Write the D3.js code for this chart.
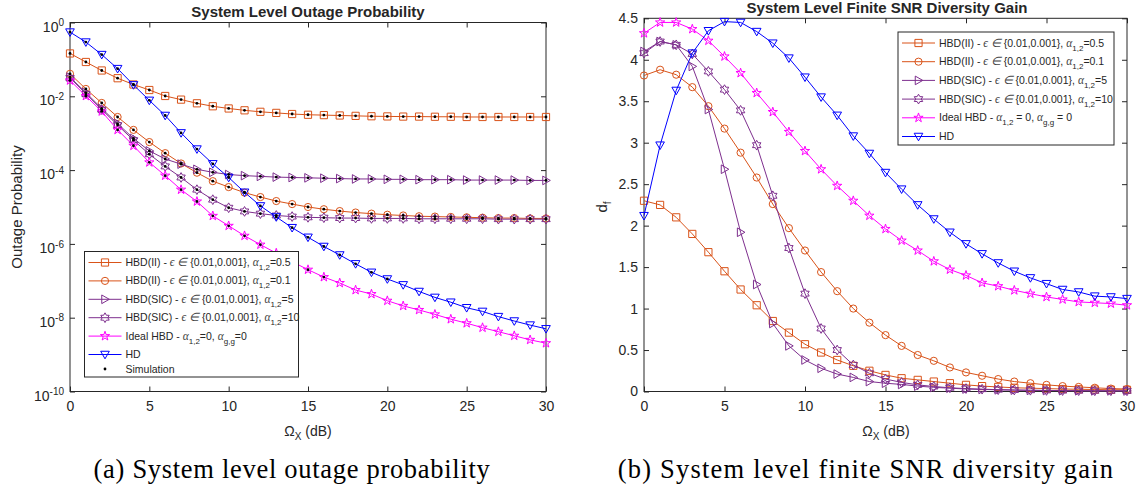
<!DOCTYPE html>
<html>
<head>
<meta charset="utf-8">
<script src="https://cdn.jsdelivr.net/npm/d3@7"></script>
<style>
  body { margin: 0; background: #fff; }
  text { font-family: "Liberation Sans", Arial, sans-serif; fill: #262626; }
  .cap { font-family: "Liberation Serif", "DejaVu Serif", serif; fill: #000; }
</style>
</head>
<body>
<div id="chart"></div>
<script>
// x values (dB) shared by both panels
const snrDb = [0,1,2,3,4,5,6,7,8,9,10,11,12,13,14,15,16,17,18,19,20,21,22,23,24,25,26,27,28,29,30];
const xTicks = [0,5,10,15,20,25,30];

// (a) outage probability, one list per curve
const outHbdII_05 = [1.45e-1,8.51e-2,5.01e-2,3.09e-2,2.09e-2,1.48e-2,1.02e-2,8.13e-3,6.46e-3,5.37e-3,4.68e-3,4.17e-3,3.80e-3,3.55e-3,3.31e-3,3.16e-3,3.09e-3,3.02e-3,2.95e-3,2.88e-3,2.85e-3,2.82e-3,2.82e-3,2.79e-3,2.79e-3,2.75e-3,2.75e-3,2.75e-3,2.75e-3,2.75e-3,2.75e-3];
const outHbdII_01 = [4.07e-2,1.58e-2,6.61e-3,2.75e-3,1.23e-3,5.75e-4,2.88e-4,1.51e-4,8.51e-5,5.01e-5,3.47e-5,2.45e-5,1.86e-5,1.45e-5,1.20e-5,1.00e-5,8.71e-6,7.76e-6,7.08e-6,6.61e-6,6.17e-6,5.89e-6,5.62e-6,5.50e-6,5.37e-6,5.25e-6,5.13e-6,5.01e-6,5.01e-6,4.90e-6,4.90e-6];
const outSic_5 = [3.31e-2,1.26e-2,4.68e-3,1.82e-3,7.24e-4,3.31e-4,2.00e-4,1.45e-4,1.05e-4,8.71e-5,7.59e-5,7.08e-5,6.76e-5,6.46e-5,6.31e-5,6.17e-5,6.03e-5,5.89e-5,5.75e-5,5.75e-5,5.62e-5,5.62e-5,5.50e-5,5.50e-5,5.50e-5,5.37e-5,5.37e-5,5.37e-5,5.37e-5,5.25e-5,5.25e-5];
const outSic_10 = [3.16e-2,1.17e-2,4.37e-3,1.66e-3,6.46e-4,2.69e-4,1.26e-4,6.31e-5,2.95e-5,1.58e-5,9.55e-6,7.59e-6,6.61e-6,5.89e-6,5.50e-6,5.25e-6,5.13e-6,5.01e-6,5.01e-6,4.90e-6,4.90e-6,4.90e-6,4.79e-6,4.79e-6,4.79e-6,4.79e-6,4.79e-6,4.68e-6,4.68e-6,4.68e-6,4.68e-6];
const outIdeal = [2.69e-2,1.02e-2,3.89e-3,1.23e-3,4.57e-4,1.62e-4,7.08e-5,2.95e-5,1.41e-5,5.75e-6,3.09e-6,1.66e-6,9.55e-7,5.62e-7,3.31e-7,2.00e-7,1.26e-7,8.71e-8,5.62e-8,4.37e-8,2.88e-8,2.09e-8,1.62e-8,1.23e-8,9.12e-9,7.08e-9,5.37e-9,4.17e-9,3.24e-9,2.51e-9,2.04e-9];
const outHd = [5.50e-1,2.95e-1,1.35e-1,5.62e-2,2.04e-2,7.76e-3,3.02e-3,1.02e-3,3.72e-4,1.48e-4,6.31e-5,2.51e-5,1.07e-5,5.37e-6,2.75e-6,1.51e-6,8.51e-7,5.01e-7,2.88e-7,1.70e-7,1.12e-7,7.76e-8,5.13e-8,3.55e-8,2.63e-8,1.86e-8,1.48e-8,1.07e-8,8.13e-9,6.31e-9,5.01e-9];
// last x (dB) that has a simulation dot, per curve
const simUpTo = [30,30,30,30,16,20];
const logTicks = [1e-10,1e-8,1e-6,1e-4,1e-2,1];

// (b) finite SNR diversity gain
const dfHbdII_05 = [2.30,2.25,2.10,1.90,1.68,1.45,1.23,1.04,0.85,0.71,0.57,0.47,0.38,0.31,0.25,0.20,0.16,0.14,0.12,0.10,0.08,0.065,0.055,0.045,0.04,0.035,0.03,0.027,0.024,0.021,0.02];
const dfHbdII_01 = [3.81,3.88,3.82,3.67,3.44,3.17,2.88,2.58,2.26,1.97,1.70,1.44,1.21,1.00,0.83,0.68,0.55,0.44,0.37,0.29,0.23,0.19,0.15,0.12,0.10,0.08,0.065,0.055,0.045,0.035,0.03];
const dfSic_5 = [4.10,4.22,4.18,3.92,3.40,2.68,1.92,1.29,0.82,0.55,0.38,0.28,0.21,0.17,0.12,0.10,0.085,0.065,0.05,0.04,0.03,0.025,0.02,0.017,0.014,0.012,0.01,0.009,0.008,0.008,0.007];
const dfSic_10 = [4.08,4.22,4.18,4.07,3.86,3.64,3.39,2.97,2.36,1.73,1.18,0.76,0.50,0.32,0.22,0.15,0.11,0.08,0.06,0.045,0.035,0.028,0.022,0.018,0.015,0.013,0.011,0.010,0.009,0.009,0.008];
const dfIdeal = [4.32,4.45,4.45,4.37,4.23,4.04,3.84,3.60,3.37,3.13,2.90,2.68,2.48,2.30,2.12,1.96,1.82,1.70,1.57,1.47,1.40,1.31,1.27,1.22,1.18,1.14,1.11,1.08,1.07,1.06,1.04];
const dfHd = [2.12,2.97,3.63,4.08,4.35,4.46,4.45,4.34,4.20,4.02,3.79,3.55,3.33,3.08,2.87,2.64,2.44,2.25,2.08,1.92,1.78,1.66,1.55,1.45,1.37,1.30,1.23,1.20,1.15,1.14,1.12];
const dfTicks = [0,0.5,1,1.5,2,2.5,3,3.5,4,4.5];

const seriesColors = ["#D95319","#D95319","#7E2F8E","#7E2F8E","#FF00FF","#0000FF"];
const seriesMarkers = ["square","circle","triRight","hexagram","pentagram","triDown"];

// legend labels: [text, kind]  t = plain, m = math, s = subscript
const legendA = [
  [["HBD(II) - ","t"],["ϵ ∈ ","m"],["{0.01,0.001}, ","t"],["α","m"],["1,2","s"],["=0.5","t"]],
  [["HBD(II) - ","t"],["ϵ ∈ ","m"],["{0.01,0.001}, ","t"],["α","m"],["1,2","s"],["=0.1","t"]],
  [["HBD(SIC) - ","t"],["ϵ ∈ ","m"],["{0.01,0.001}, ","t"],["α","m"],["1,2","s"],["=5","t"]],
  [["HBD(SIC) - ","t"],["ϵ ∈ ","m"],["{0.01,0.001}, ","t"],["α","m"],["1,2","s"],["=10","t"]],
  [["Ideal HBD - ","t"],["α","m"],["1,2","s"],["=0, ","t"],["α","m"],["g,g","s"],["=0","t"]],
  [["HD","t"]]
];
const legendB = [
  [["HBD(II) - ","t"],["ϵ ∈ ","m"],["{0.01,0.001}, ","t"],["α","m"],["1,2","s"],["=0.5","t"]],
  [["HBD(II) - ","t"],["ϵ ∈ ","m"],["{0.01,0.001}, ","t"],["α","m"],["1,2","s"],["=0.1","t"]],
  [["HBD(SIC) - ","t"],["ϵ ∈ ","m"],["{0.01,0.001}, ","t"],["α","m"],["1,2","s"],["=5","t"]],
  [["HBD(SIC) - ","t"],["ϵ ∈ ","m"],["{0.01,0.001}, ","t"],["α","m"],["1,2","s"],["=10","t"]],
  [["Ideal HBD - ","t"],["α","m"],["1,2","s"],[" = 0, ","t"],["α","m"],["g,g","s"],[" = 0","t"]],
  [["HD","t"]]
];

const svg = d3.select("#chart").append("svg")
  .attr("width", 1145).attr("height", 491)
  .style("background", "#fff");

function markerPath(type, s) {
  let p = d3.path();
  if (type == "square") {
    p.rect(-s, -s, 2*s, 2*s);
  } else if (type == "circle") {
    p.moveTo(s, 0); p.arc(0, 0, s, 0, 2*Math.PI);
  } else if (type == "triDown") {
    p.moveTo(-s*1.2, -s*0.9); p.lineTo(s*1.2, -s*0.9); p.lineTo(0, s*1.2); p.closePath();
  } else if (type == "triRight") {
    p.moveTo(-s*0.9, -s*1.2); p.lineTo(s*1.2, 0); p.lineTo(-s*0.9, s*1.2); p.closePath();
  } else {
    // star outlines
    let n = type == "pentagram" ? 5 : 6;
    let R = s*1.35, r = type == "pentagram" ? R*0.382 : R*0.577;
    for (let i = 0; i < 2*n; i++) {
      let a = -Math.PI/2 + i*Math.PI/n, rr = i % 2 ? r : R;
      if (i == 0) p.moveTo(rr*Math.cos(a), rr*Math.sin(a));
      else p.lineTo(rr*Math.cos(a), rr*Math.sin(a));
    }
    p.closePath();
  }
  return p.toString();
}

function addLabel(text, parts, size) {
  let down = false;
  parts.forEach(function(p) {
    let ts = text.append("tspan").text(p[0]);
    if (p[1] == "m") ts.style("font-family", "'Liberation Serif', serif").style("font-style", "italic").style("fill", "#444").attr("font-size", size + 1);
    if (p[1] == "s") { ts.attr("dy", 4).attr("font-size", size - 2.5); down = true; }
    else if (down) { ts.attr("dy", -4); down = false; }
  });
}

function drawLegend(g, labels, box, withSim) {
  g.append("rect").attr("x", box.x).attr("y", box.y).attr("width", box.w).attr("height", box.h)
    .attr("fill", "#fff").attr("stroke", "#262626").attr("stroke-width", 1);
  labels.forEach(function(lab, i) {
    let y = box.y + 11 + i*box.step;
    g.append("line").attr("x1", box.x + 4).attr("x2", box.x + 37).attr("y1", y).attr("y2", y)
      .attr("stroke", seriesColors[i]).attr("stroke-width", 1);
    g.append("path").attr("d", markerPath(seriesMarkers[i], 3.6))
      .attr("transform", "translate(" + (box.x + 20.5) + "," + y + ")")
      .attr("fill", "none").attr("stroke", seriesColors[i]).attr("stroke-width", 1);
    let t = g.append("text").attr("x", box.x + 41).attr("y", y + 3.5).attr("font-size", 10.5);
    addLabel(t, lab, 10.5);
  });
  if (withSim) {
    let y = box.y + 11 + 5*box.step + 14.5;
    g.append("circle").attr("cx", box.x + 20.5).attr("cy", y).attr("r", 1.4).attr("fill", "#000");
    g.append("text").attr("x", box.x + 41).attr("y", y + 3.5).attr("font-size", 10.5).text("Simulation");
  }
}

function frame(g, x, y, yTicks) {
  let x0 = x.range()[0], x1 = x.range()[1], y0 = y.range()[0], y1 = y.range()[1];
  let fontSet = function(a) { a.attr("font-size", 14).attr("font-family", "'Liberation Sans', Arial, sans-serif").attr("color", "#262626"); };
  g.append("g").attr("transform", "translate(0," + y0 + ")")
    .call(d3.axisBottom(x).tickValues(xTicks).tickSize(-5).tickPadding(10)).call(fontSet);
  g.append("g").attr("transform", "translate(0," + y1 + ")")
    .call(d3.axisTop(x).tickValues(xTicks).tickSize(-5).tickFormat("")).call(fontSet);
  let left = g.append("g").attr("transform", "translate(" + x0 + ",0)")
    .call(d3.axisLeft(y).tickValues(yTicks).tickSize(-5).tickPadding(6)).call(fontSet);
  g.append("g").attr("transform", "translate(" + x1 + ",0)")
    .call(d3.axisRight(y).tickValues(yTicks).tickSize(-5).tickFormat("")).call(fontSet);
  g.selectAll(".domain").remove();
  g.append("rect").attr("x", x0).attr("y", y1).attr("width", x1 - x0).attr("height", y0 - y1)
    .attr("fill", "none").attr("stroke", "#262626").attr("stroke-width", 1);
  return left;
}

function drawSeries(g, x, y, lists, sim) {
  lists.forEach(function(vals, i) {
    let pts = snrDb.map((d, k) => ({x: d, v: vals[k]}));
    g.append("path").datum(pts)
      .attr("d", d3.line().x(d => x(d.x)).y(d => y(d.v)))
      .attr("fill", "none").attr("stroke", seriesColors[i]).attr("stroke-width", 1);
    g.selectAll(null).data(pts).join("path")
      .attr("d", markerPath(seriesMarkers[i], 3.6))
      .attr("transform", d => "translate(" + x(d.x) + "," + y(d.v) + ")")
      .attr("fill", "none").attr("stroke", seriesColors[i]).attr("stroke-width", 1);
  });
  if (sim) {
    lists.forEach(function(vals, i) {
      let pts = snrDb.map((d, k) => ({x: d, v: vals[k]})).filter(d => d.x <= sim[i]);
      g.selectAll(null).data(pts).join("circle")
        .attr("cx", d => x(d.x)).attr("cy", d => y(d.v)).attr("r", 1.4).attr("fill", "#000");
    });
  }
}

function xLabel(g, cx) {
  let t = g.append("text").attr("x", cx).attr("y", 436).attr("text-anchor", "middle").attr("font-size", 14);
  t.append("tspan").text("Ω");
  t.append("tspan").attr("dy", 4).attr("font-size", 10).text("X");
  t.append("tspan").attr("dy", -4).text(" (dB)");
}

// ---- panel (a)
const xA = d3.scaleLinear().domain([0, 30]).range([70, 546]);
const yA = d3.scaleLog().domain([1e-10, 1]).range([391.5, 22.5]);
const gA = svg.append("g");
let leftA = frame(gA, xA, yA, logTicks);
leftA.selectAll(".tick text").text(null).attr("dy", "0.62em").each(function(d) {
  let t = d3.select(this);
  t.append("tspan").text("10");
  t.append("tspan").attr("dy", "-0.55em").attr("font-size", 10).text(Math.round(Math.log10(d)));
});
drawSeries(gA, xA, yA, [outHbdII_05, outHbdII_01, outSic_5, outSic_10, outIdeal, outHd], simUpTo);
drawLegend(gA, legendA, {x: 84.5, y: 251.5, w: 214, h: 125.5, step: 18.4}, true);
gA.append("text").attr("x", 308).attr("y", 17).attr("text-anchor", "middle")
  .attr("font-size", 15).attr("font-weight", "bold").text("System Level Outage Probability");
gA.append("text").attr("transform", "translate(22,207) rotate(-90)").attr("text-anchor", "middle")
  .attr("font-size", 15).text("Outage Probability");
xLabel(gA, 308);

// ---- panel (b)
const xB = d3.scaleLinear().domain([0, 30]).range([644, 1127]);
const yB = d3.scaleLinear().domain([0, 4.5]).range([391.5, 18.3]);
const gB = svg.append("g");
let leftB = frame(gB, xB, yB, dfTicks);
leftB.selectAll(".tick text").text(d => String(d));
drawSeries(gB, xB, yB, [dfHbdII_05, dfHbdII_01, dfSic_5, dfSic_10, dfIdeal, dfHd], null);
drawLegend(gB, legendB, {x: 898, y: 32, w: 216, h: 113, step: 18.7}, false);
gB.append("text").attr("x", 887).attr("y", 13).attr("text-anchor", "middle")
  .attr("font-size", 15).attr("font-weight", "bold").text("System Level Finite SNR Diversity Gain");
let dl = gB.append("text").attr("transform", "translate(607,207) rotate(-90)").attr("text-anchor", "middle").attr("font-size", 15);
dl.append("tspan").text("d");
dl.append("tspan").attr("dy", 4).attr("font-size", 10).text("f");
xLabel(gB, 886);

// captions
svg.append("text").attr("class", "cap").attr("x", 292).attr("y", 478).attr("text-anchor", "middle")
  .attr("font-size", 26.5).style("letter-spacing", "0.7px").text("(a) System level outage probability");
svg.append("text").attr("class", "cap").attr("x", 866).attr("y", 478).attr("text-anchor", "middle")
  .attr("font-size", 26.5).style("letter-spacing", "1.2px").text("(b) System level finite SNR diversity gain");
</script>
</body>
</html>
